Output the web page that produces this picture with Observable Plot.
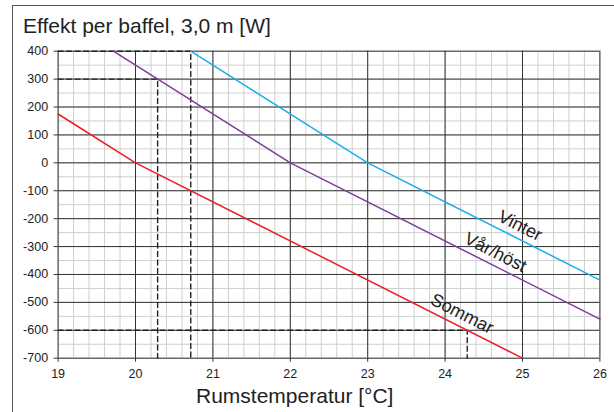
<!DOCTYPE html>
<html>
<head>
<meta charset="utf-8">
<script src="https://cdn.jsdelivr.net/npm/d3@7"></script>
<script src="https://cdn.jsdelivr.net/npm/@observablehq/plot@0.6"></script>
<style>
  html, body { margin: 0; padding: 0; background: #fff; }
  #wrap { position: relative; width: 614px; height: 412px; overflow: hidden; font-family: "Liberation Sans", Arial, sans-serif; }
  #frame { position: absolute; left: 12px; top: 5px; width: 700px; height: 500px; border-top: 1.5px solid #555; border-left: 1.5px solid #555; }
  #title { position: absolute; left: 23px; top: 15px; font-size: 21px; line-height: 21px; color: #222; white-space: nowrap; }
  #xlabel { position: absolute; left: 196px; top: 385px; font-size: 21px; line-height: 21px; color: #222; white-space: nowrap; }
  #chart { position: absolute; left: 0; top: 0; }
</style>
</head>
<body>
<div id="wrap">
  <div id="chart"></div>
  <div id="frame"></div>
  <div id="title">Effekt per baffel, 3,0 m [W]</div>
  <div id="xlabel">Rumstemperatur [°C]</div>
</div>
<script>
// ---- data ----
const seriesNames = ["Sommar", "Vår/höst", "Vinter"];
const sommarX = [19, 20, 25];
const sommarY = [175, 0, -700];
const varhostX = [19.714, 22, 26];
const varhostY = [400, 0, -560];
const vinterX = [20.714, 23, 26];
const vinterY = [400, 0, -420];
const seriesColors = ["#ee1c25", "#7d3c98", "#19aee8"];

// dashed reading guides
const guide400X = [19, 20.714, 20.714];
const guide400Y = [400, 400, -700];
const guide300X = [19, 20.286, 20.286];
const guide300Y = [300, 300, -700];
const guideM600X = [19, 24.286, 24.286];
const guideM600Y = [-600, -600, -700];

// line labels (anchor on the line)
const labelNames = ["Vinter", "Vår/höst", "Sommar"];
const labelX = [24.97, 24.65, 24.22];
const labelY = [-276, -371, -591];
const labelAngle = 26.8;

// axis ticks
const xTicks = [19, 20, 21, 22, 23, 24, 25, 26];
const yTicks = [-700, -600, -500, -400, -300, -200, -100, 0, 100, 200, 300, 400];
const xMinor = d3.range(19, 26.001, 0.2).map(v => +v.toFixed(1));
const yMinor = d3.range(-700, 401, 50);

// ---- build ----
const toPts = (xs, ys, name) => xs.map((x, i) => ({x, y: ys[i], name}));
const lines = [
  ...toPts(sommarX, sommarY, "Sommar"),
  ...toPts(varhostX, varhostY, "Vår/höst"),
  ...toPts(vinterX, vinterY, "Vinter")
];
const guides = [
  ...toPts(guide400X, guide400Y, "g400"),
  ...toPts(guide300X, guide300Y, "g300"),
  ...toPts(guideM600X, guideM600Y, "g600")
];
const labels = labelNames.map((t, i) => ({t, x: labelX[i], y: labelY[i]}));

const plot = Plot.plot({
  width: 614,
  height: 412,
  marginLeft: 57.6,
  marginRight: 14.6,
  marginTop: 50.7,
  marginBottom: 54.3,
  style: {fontFamily: "'Liberation Sans', Arial, sans-serif", background: "transparent", color: "#222"},
  x: {domain: [19, 26]},
  y: {domain: [-700, 400]},
  color: {domain: seriesNames, range: seriesColors},
  marks: [
    Plot.ruleX(xMinor, {stroke: "#cfcfcf", strokeWidth: 1}),
    Plot.ruleY(yMinor, {stroke: "#cfcfcf", strokeWidth: 1}),
    Plot.ruleX(xTicks, {stroke: "#333", strokeWidth: 1}),
    Plot.ruleY(yTicks, {stroke: "#333", strokeWidth: 1}),
    Plot.line(guides, {x: "x", y: "y", z: "name", stroke: "#222", strokeWidth: 1.4, strokeDasharray: "5,3.5"}),
    Plot.line(lines, {x: "x", y: "y", z: "name", stroke: "name", strokeWidth: 1.5}),
    Plot.text(labels, {x: "x", y: "y", text: "t", rotate: labelAngle, dy: -14, fontSize: 18, fill: "#222"}),
    Plot.axisX({ticks: xTicks, tickSize: 4, tickPadding: 7, fontSize: 12.5, tickFormat: d => String(d), label: null, stroke: "#333"}),
    Plot.axisY({ticks: yTicks, tickSize: 4, tickPadding: 6, fontSize: 12.5, tickFormat: d => String(d), label: null, stroke: "#333"})
  ]
});
document.getElementById("chart").appendChild(plot);
</script>
</body>
</html>
